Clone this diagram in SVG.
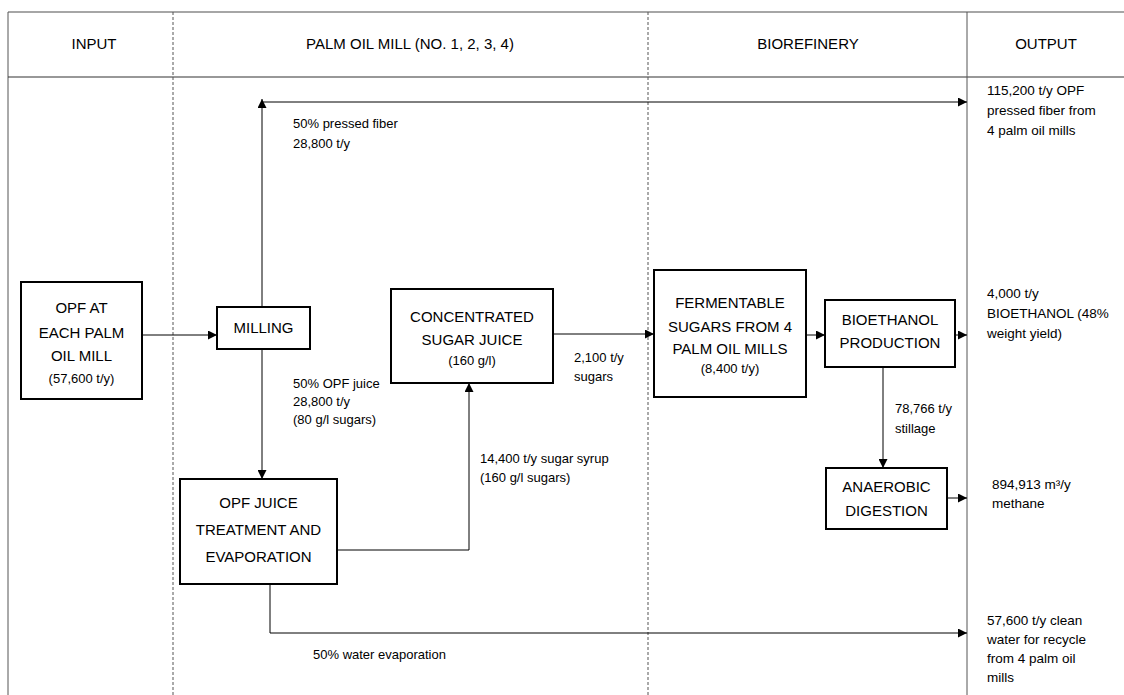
<svg xmlns="http://www.w3.org/2000/svg" width="1124" height="695" viewBox="0 0 1124 695">
<style>
text{font-family:"Liberation Sans",Arial,sans-serif;fill:#000}
.h{font-size:15px;text-anchor:middle}
.b{font-size:15px;text-anchor:middle}
.s{font-size:13px;text-anchor:middle}
.l{font-size:13px}
.o{font-size:13.5px}
.box{fill:#fff;stroke:#000;stroke-width:2}
.c{fill:none;stroke:#000;stroke-width:1}
.dash{stroke:#555;stroke-width:1;stroke-dasharray:3,2}
.solid{stroke:#555;stroke-width:1}
</style>
<defs>
<marker id="ah" markerUnits="userSpaceOnUse" markerWidth="9" markerHeight="9" refX="9" refY="4.5" orient="auto">
<path d="M0,0 L9,4.5 L0,9 z" fill="#000"/>
</marker>
</defs>
<rect width="1124" height="695" fill="#fff"/>
<g id="frame">
<line x1="8" y1="12" x2="1124" y2="12" stroke="#888" stroke-width="1.5"/>
<line x1="8" y1="12" x2="8" y2="695" class="solid"/>
<line x1="8" y1="77" x2="1124" y2="77" stroke="#333" stroke-width="1.2"/>
<line x1="173" y1="12" x2="173" y2="695" class="dash"/>
<line x1="648" y1="12" x2="648" y2="695" class="dash"/>
<line x1="967" y1="12" x2="967" y2="695" class="solid"/>
<text class="h" x="94" y="49">INPUT</text>
<text class="h" x="410" y="49">PALM OIL MILL (NO. 1, 2, 3, 4)</text>
<text class="h" x="808" y="49">BIOREFINERY</text>
<text class="h" x="1046" y="49">OUTPUT</text>
</g>
<g id="connectors">
<line class="c" x1="142" y1="335" x2="217" y2="335" marker-end="url(#ah)"/>
<line class="c" x1="262" y1="307" x2="262" y2="99" marker-end="url(#ah)"/>
<line class="c" x1="262" y1="102" x2="967" y2="102" marker-end="url(#ah)"/>
<line class="c" x1="262" y1="349" x2="262" y2="479" marker-end="url(#ah)"/>
<polyline class="c" points="337,550 469,550 469,383" marker-end="url(#ah)"/>
<line class="c" x1="553" y1="334" x2="654" y2="334" marker-end="url(#ah)"/>
<line class="c" x1="806" y1="335" x2="825" y2="335" marker-end="url(#ah)"/>
<line class="c" x1="955" y1="335" x2="967" y2="335" marker-end="url(#ah)"/>
<line class="c" x1="883" y1="367" x2="883" y2="468" marker-end="url(#ah)"/>
<line class="c" x1="947" y1="498" x2="967" y2="498" marker-end="url(#ah)"/>
<polyline class="c" points="270,584 270,633 967,633" marker-end="url(#ah)"/>
<text class="l" x="293" y="128">50% pressed fiber</text>
<text class="l" x="293" y="148">28,800 t/y</text>
<text class="l" x="293" y="388">50% OPF juice</text>
<text class="l" x="293" y="406">28,800 t/y</text>
<text class="l" x="293" y="424">(80 g/l sugars)</text>
<text class="l" x="480" y="463">14,400 t/y sugar syrup</text>
<text class="l" x="480" y="482">(160 g/l sugars)</text>
<text class="l" x="574" y="362">2,100 t/y</text>
<text class="l" x="574" y="381">sugars</text>
<text class="l" x="895" y="413">78,766 t/y</text>
<text class="l" x="895" y="433">stillage</text>
<text class="l" x="313" y="659">50% water evaporation</text>
</g>
<g id="opf">
<rect class="box" x="21" y="282" width="121" height="117"/>
<text class="b" x="81.5" y="313">OPF AT</text>
<text class="b" x="81.5" y="338">EACH PALM</text>
<text class="b" x="81.5" y="361">OIL MILL</text>
<text class="s" x="81.5" y="383">(57,600 t/y)</text>
</g>
<g id="milling">
<rect class="box" x="217" y="307" width="93" height="42"/>
<text class="b" x="263.5" y="333">MILLING</text>
</g>
<g id="concentrated">
<rect class="box" x="391" y="289" width="162" height="94"/>
<text class="b" x="472" y="322">CONCENTRATED</text>
<text class="b" x="472" y="345">SUGAR JUICE</text>
<text class="s" x="472" y="365">(160 g/l)</text>
</g>
<g id="treatment">
<rect class="box" x="180" y="479" width="157" height="105"/>
<text class="b" x="258.5" y="508">OPF JUICE</text>
<text class="b" x="258.5" y="535">TREATMENT AND</text>
<text class="b" x="258.5" y="562">EVAPORATION</text>
</g>
<g id="fermentable">
<rect class="box" x="654" y="270" width="152" height="127"/>
<text class="b" x="730" y="308">FERMENTABLE</text>
<text class="b" x="730" y="332">SUGARS FROM 4</text>
<text class="b" x="730" y="354">PALM OIL MILLS</text>
<text class="s" x="730" y="373">(8,400 t/y)</text>
</g>
<g id="bioethanol">
<rect class="box" x="825" y="300" width="130" height="67"/>
<text class="b" x="890" y="325">BIOETHANOL</text>
<text class="b" x="890" y="348">PRODUCTION</text>
</g>
<g id="anaerobic">
<rect class="box" x="826" y="468" width="121" height="61"/>
<text class="b" x="886.5" y="492">ANAEROBIC</text>
<text class="b" x="886.5" y="516">DIGESTION</text>
</g>
<g id="outputs">
<text class="o" x="987" y="95">115,200 t/y OPF</text>
<text class="o" x="987" y="115">pressed fiber from</text>
<text class="o" x="987" y="135">4 palm oil mills</text>
<text class="o" x="987" y="298">4,000 t/y</text>
<text class="o" x="987" y="318">BIOETHANOL (48%</text>
<text class="o" x="987" y="338">weight yield)</text>
<text class="o" x="992" y="489">894,913 m³/y</text>
<text class="o" x="992" y="508">methane</text>
<text class="o" x="987" y="625">57,600 t/y clean</text>
<text class="o" x="987" y="644">water for recycle</text>
<text class="o" x="987" y="663">from 4 palm oil</text>
<text class="o" x="987" y="682">mills</text>
</g>
</svg>
